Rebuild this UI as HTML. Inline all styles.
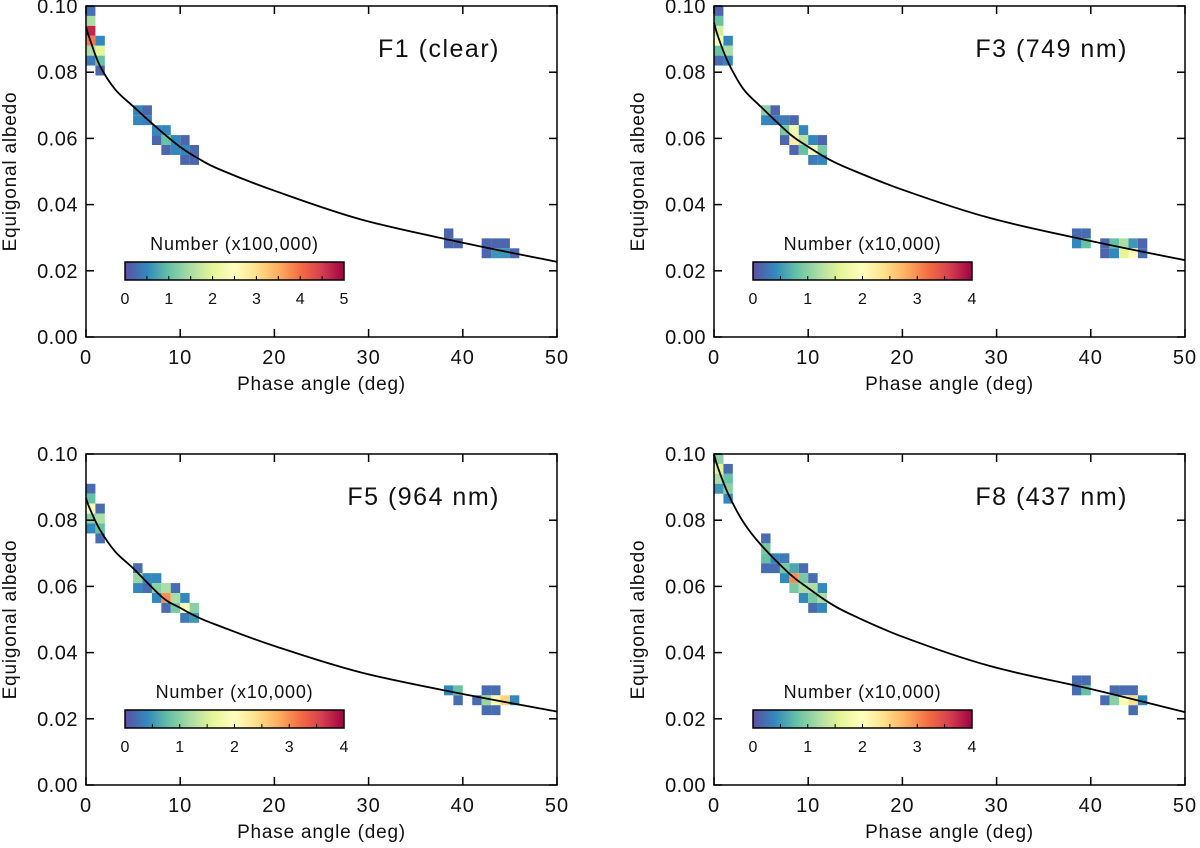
<!DOCTYPE html>
<html><head><meta charset="utf-8"><style>
html,body{margin:0;padding:0;background:#fff;}
svg{display:block;}
text{font-family:"Liberation Sans",sans-serif;fill:#111;}
</style></head><body>
<svg id="fig" width="1200" height="848" viewBox="0 0 1200 848" xmlns="http://www.w3.org/2000/svg">
<defs>
<linearGradient id="spectral" x1="0" x2="1" y1="0" y2="0">
<stop offset="0" stop-color="#5e4fa2"/><stop offset="0.1" stop-color="#3288bd"/><stop offset="0.2" stop-color="#66c2a5"/><stop offset="0.3" stop-color="#abdda4"/><stop offset="0.4" stop-color="#e6f598"/><stop offset="0.5" stop-color="#ffffbf"/><stop offset="0.6" stop-color="#fee08b"/><stop offset="0.7" stop-color="#fdae61"/><stop offset="0.8" stop-color="#f46d43"/><stop offset="0.9" stop-color="#d53e4f"/><stop offset="1" stop-color="#9e0142"/>
</linearGradient>
</defs>
</svg>
<script>
// ---- data ----
const xTicks = [0,10,20,30,40,50];
const yTicks = [0,0.02,0.04,0.06,0.08,0.10];
const panelTitles = ["F1 (clear)","F3 (749 nm)","F5 (964 nm)","F8 (437 nm)"];
const cbarTitles = ["Number (x100,000)","Number (x10,000)","Number (x10,000)","Number (x10,000)"];
const cbarMax = [5,4,4,4];

// heatmap cells: phase bin (deg), albedo row index (0.003 bins from 0.10), count
const p1Phase = [0,0,0,0,0,0,1,1,1,1,5,6,5,6,7,8,7,8,9,10,8,9,10,11,10,11,38,38,39,42,43,44,42,43,44,45];
const p1Row   = [0,1,2,3,4,5,3,4,5,6,10,10,11,11,12,12,13,13,13,13,14,14,14,14,15,15,22.4,23.4,23.4,23.4,23.4,23.4,24.4,24.4,24.4,24.4];
const p1Count = [0.3,1.5,4.7,3.9,1.5,0.4,0.5,2.0,1.0,0.2,0.5,0.2,0.5,0.4,0.5,0.5,0.2,1.0,0.5,0.2,0.2,0.5,0.5,0.2,0.2,0.2,0.2,0.2,0.2,0.2,0.2,0.2,0.2,0.6,0.6,0.2];

const p2Phase = [0,0,0,0,0,0,1,1,1,5,6,5,6,7,8,7,8,9,7,8,9,10,11,8,9,10,11,10,11,38,39,38,39,41,42,43,44,45,41,42,43,44,45];
const p2Row   = [0,1,2,3,4,5,3,4,5,10,10,11,11,11,11,12,12,12,13,13,13,13,13,14,14,14,14,15,15,22.4,22.4,23.4,23.4,23.4,23.4,23.4,23.4,23.4,24.4,24.4,24.4,24.4,24.4];
const p2Count = [0.15,0.8,1.5,1.9,0.8,0.2,0.4,1.2,0.4,1.0,0.15,0.4,0.3,0.3,0.15,0.9,1.8,0.4,0.15,2.2,1.3,0.4,0.15,0.15,0.8,1.9,0.9,0.3,0.4,0.2,0.2,0.4,0.8,0.15,0.8,1.2,0.5,0.15,0.15,0.4,1.6,2.0,0.2];

const p3Phase = [0,0,0,0,0,1,1,1,1,5,5,6,7,5,6,7,8,9,7,8,9,10,8,9,10,11,10,11,38,39,39,42,43,41,42,43,44,45,42,43];
const p3Row   = [3,4,5,6,7,5,6,7,8,11,12,12,12,13,13,13,13,13,14,14,14,14,15,15,15,15,16,16,23.3,23.3,24.3,23.3,23.3,24.3,24.3,24.3,24.3,24.3,25.3,25.3];
const p3Count = [0.2,0.8,1.9,1.0,0.4,0.2,1.2,0.8,0.2,0.2,1.1,0.4,0.4,0.4,0.2,1.0,1.2,0.2,0.4,3.0,1.2,0.4,0.2,0.9,1.9,1.0,0.3,0.5,0.4,0.8,0.2,0.2,0.2,0.2,1.1,2.1,2.5,0.4,0.2,0.2];

const p4Phase = [0,0,0,0,1,1,1,1,5,5,5,6,7,5,6,7,8,9,7,8,9,10,8,9,10,11,9,10,11,10,11,38,39,38,39,42,43,44,41,42,43,44,45,44];
const p4Row   = [0,1,2,3,1,2,3,4,8,9,10,10,10,11,11,11,11,11,12,12,12,12,13,13,13,13,14,14,14,15,15,22.3,22.3,23.3,23.3,23.3,23.3,23.3,24.3,24.3,24.3,24.3,24.3,25.3];
const p4Count = [1.0,1.6,1.2,0.5,0.2,0.8,1.0,0.4,0.2,0.9,0.8,0.4,0.3,0.2,0.2,0.9,0.6,0.2,0.4,3.0,0.9,0.2,0.9,1.2,1.2,0.4,0.4,0.9,1.2,0.2,0.4,0.2,0.2,0.2,0.8,0.2,0.2,0.2,0.2,1.0,1.9,2.4,0.4,0.2];

// fitted curves
const curvePhase = [0,0.4,1.5,3.1,5,8.1,10,12,14.2,20,29.2,40,50];
const c1Albedo = [0.0936,0.090,0.0818,0.0748,0.0697,0.0618,0.0574,0.0538,0.0506,0.0442,0.0355,0.0285,0.0227];
const c2Albedo = [0.095,0.091,0.083,0.075,0.0695,0.0612,0.0575,0.054,0.051,0.0445,0.036,0.029,0.0232];
const c3Albedo = [0.0867,0.0835,0.077,0.0705,0.0655,0.0567,0.0535,0.0505,0.048,0.042,0.034,0.0275,0.0222];
const c4Albedo = [0.100,0.096,0.088,0.0795,0.0725,0.0636,0.0595,0.0555,0.052,0.0448,0.036,0.029,0.022];

const panels = [
 {ph:p1Phase,row:p1Row,cnt:p1Count,curve:c1Albedo},
 {ph:p2Phase,row:p2Row,cnt:p2Count,curve:c2Albedo},
 {ph:p3Phase,row:p3Row,cnt:p3Count,curve:c3Albedo},
 {ph:p4Phase,row:p4Row,cnt:p4Count,curve:c4Albedo}
];
const origins = [[86,6],[714,6],[86,454],[714,454]];

// ---- drawing ----
const NS="http://www.w3.org/2000/svg";
const svg=document.getElementById('fig');
function mk(tag,attrs,parent){const e=document.createElementNS(NS,tag);for(const k in attrs)e.setAttribute(k,attrs[k]);(parent||svg).appendChild(e);return e;}
const stops=[[0,[94,79,162]],[0.1,[50,136,189]],[0.2,[102,194,165]],[0.3,[171,221,164]],[0.4,[230,245,152]],[0.5,[255,255,191]],[0.6,[254,224,139]],[0.7,[253,174,97]],[0.8,[244,109,67]],[0.9,[213,62,79]],[1,[158,1,66]]];
function cmap(t){t=Math.max(0,Math.min(1,t));for(let i=1;i<stops.length;i++){if(t<=stops[i][0]){const a=stops[i-1],b=stops[i];const f=(t-a[0])/(b[0]-a[0]);const c=a[1].map((v,j)=>Math.round(v+(b[1][j]-v)*f));return `rgb(${c[0]},${c[1]},${c[2]})`;}}return 'rgb(158,1,66)';}
function smoothPath(pts){
  let d='M'+pts[0][0].toFixed(1)+','+pts[0][1].toFixed(1);
  for(let i=0;i<pts.length-1;i++){
    const p0=pts[Math.max(0,i-1)],p1=pts[i],p2=pts[i+1],p3=pts[Math.min(pts.length-1,i+2)];
    const c1=[p1[0]+(p2[0]-p0[0])/6,p1[1]+(p2[1]-p0[1])/6];
    const c2=[p2[0]-(p3[0]-p1[0])/6,p2[1]-(p3[1]-p1[1])/6];
    d+=` C${c1[0].toFixed(1)},${c1[1].toFixed(1)} ${c2[0].toFixed(1)},${c2[1].toFixed(1)} ${p2[0].toFixed(1)},${p2[1].toFixed(1)}`;
  }
  return d;
}

const W=471, H=331;
panels.forEach((p,pi)=>{
  const [ox,oy]=origins[pi];
  const g=mk('g',{});
  
  
  const xs=v=>ox+v/50*W;
  const ys=v=>oy+H-v/0.1*H;
  const cg=mk('g',{},g);
  
  
  p.ph.forEach((ph,i)=>{
    const top=0.1-p.row[i]*0.003;
    const r=mk('rect',{x:xs(ph),y:ys(top),width:xs(ph+1)-xs(ph),height:ys(top-0.003)-ys(top),fill:cmap(p.cnt[i]/cbarMax[pi])},cg);
    
    
  });
  const pts=curvePhase.map((ph,i)=>[xs(ph),ys(p.curve[i])]);
  const path=mk('path',{d:smoothPath(pts),fill:'none',stroke:'#000','stroke-width':1.8},g);
  
  
  const fr=mk('rect',{x:ox,y:oy,width:W,height:H,fill:'none',stroke:'#000','stroke-width':1.5},g);
  
  
  xTicks.forEach(t=>{
    mk('line',{x1:xs(t),x2:xs(t),y1:oy+H,y2:oy+H-8,stroke:'#000','stroke-width':1.5},g);
    mk('line',{x1:xs(t),x2:xs(t),y1:oy,y2:oy+8,stroke:'#000','stroke-width':1.5},g);
    const tx=mk('text',{x:xs(t),y:oy+H+27,'font-size':20,'text-anchor':'middle','letter-spacing':'1'},g);
    tx.textContent=t;
    
    
  });
  yTicks.forEach(t=>{
    mk('line',{x1:ox,x2:ox+8,y1:ys(t),y2:ys(t),stroke:'#000','stroke-width':1.5},g);
    mk('line',{x1:ox+W,x2:ox+W-8,y1:ys(t),y2:ys(t),stroke:'#000','stroke-width':1.5},g);
    const ty=mk('text',{x:ox-8,y:ys(t)+7,'font-size':20,'text-anchor':'end','letter-spacing':'0.5'},g);
    ty.textContent=t.toFixed(2);
    
    
  });
  const xt=mk('text',{x:ox+W/2,y:oy+H+53,'font-size':19,'text-anchor':'middle','letter-spacing':'0.8'},g);
  xt.textContent='Phase angle (deg)';
  
  
  const yt=mk('text',{x:0,y:0,'font-size':19,'text-anchor':'middle','letter-spacing':'0.8',transform:`translate(${ox-70},${oy+H/2}) rotate(-90)`},g);
  yt.textContent='Equigonal albedo';
  
  
  const tt=mk('text',{x:ox+W-57,y:oy+51,'font-size':25,'text-anchor':'end','letter-spacing':'1.5'},g);
  tt.textContent=panelTitles[pi];
  
  
  const cx=ox+39, cy=oy+256, cw=219, ch=18;
  const cb=mk('rect',{x:cx,y:cy,width:cw,height:ch,fill:'url(#spectral)',stroke:'#000','stroke-width':1.5},g);
  
  
  const ct=mk('text',{x:cx+cw/2,y:cy-12,'font-size':18,'text-anchor':'middle','letter-spacing':'0.8'},g);
  ct.textContent=cbarTitles[pi];
  
  
  for(let v=0;v<=cbarMax[pi]*2;v++){
    const x=cx+v/(cbarMax[pi]*2)*cw;
    mk('line',{x1:x,x2:x,y1:cy+ch,y2:cy+ch-4,stroke:'#000','stroke-width':1},g);
    if(v%2===0){
      const l=mk('text',{x:x,y:cy+ch+24,'font-size':16,'text-anchor':'middle'},g);
      l.textContent=v/2;
      
      
    }
  }
});
</script>
</body></html>
